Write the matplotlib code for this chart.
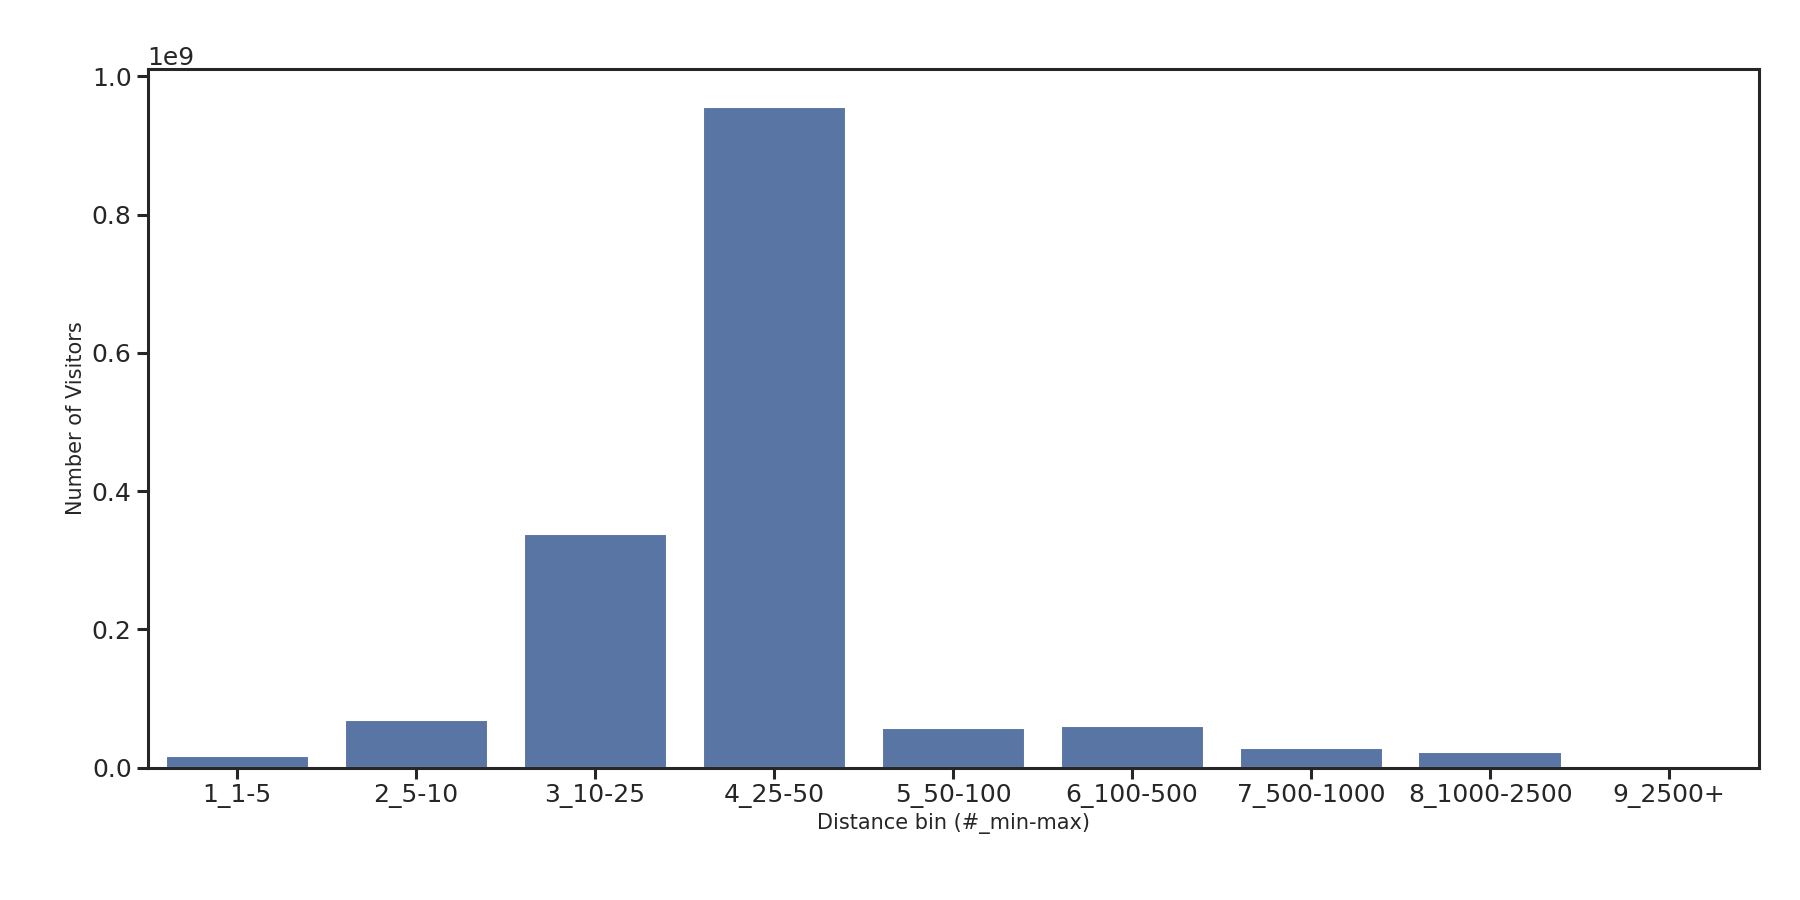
import matplotlib
matplotlib.use("Agg")
import matplotlib.pyplot as plt
import seaborn as sns

categories = ["1_1-5", "2_5-10", "3_10-25", "4_25-50", "5_50-100", "6_100-500",
              "7_500-1000", "8_1000-2500", "9_2500+"]
visitors = [0.017e9, 0.069e9, 0.338e9, 0.955e9, 0.058e9, 0.061e9, 0.029e9, 0.023e9, 0.001e9]

sns.set_theme(style="ticks", context="talk")
fig = plt.figure(figsize=(18, 9), dpi=100)
ax = fig.add_axes([0.082, 0.147, 0.895, 0.776])
sns.barplot(x=categories, y=visitors, color="#4c72b0", ax=ax, saturation=0.75)
ax.set_ylim(0, 1.01e9)
ax.set_xlabel("Distance bin (#_min-max)", fontsize=15)
ax.set_ylabel("Number of Visitors", fontsize=15)
ax.tick_params(labelsize=18, length=8, width=2.2)
ax.yaxis.get_offset_text().set_fontsize(18)
for s in ax.spines.values():
    s.set_linewidth(2.2)
fig.savefig("out.png")
